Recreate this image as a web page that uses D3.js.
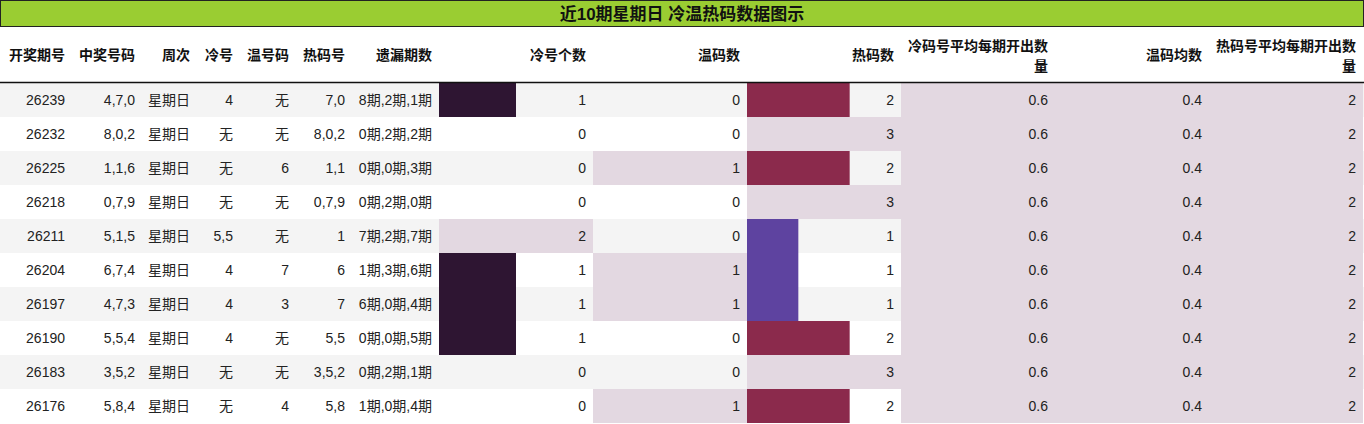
<!DOCTYPE html>
<html lang="zh">
<head>
<meta charset="utf-8">
<title>冷温热码数据图示</title>
<script src="https://cdn.jsdelivr.net/npm/d3@7"></script>
<style>
body { margin: 0; background: #fff; }
text { font-family: "Liberation Sans", "Noto Sans CJK SC", sans-serif; font-size: 14px; fill: #222; }
.hd { font-weight: bold; fill: #111; }
</style>
</head>
<body>
<script>
// data
var issues = ["26239","26232","26225","26218","26211","26204","26197","26190","26183","26176"];
var numbers = ["4,7,0","8,0,2","1,1,6","0,7,9","5,1,5","6,7,4","4,7,3","5,5,4","3,5,2","5,8,4"];
var weekday = ["星期日","星期日","星期日","星期日","星期日","星期日","星期日","星期日","星期日","星期日"];
var coldNums = ["4","无","无","无","5,5","4","4","4","无","无"];
var warmNums = ["无","无","6","无","无","7","3","无","无","4"];
var hotNums = ["7,0","8,0,2","1,1","0,7,9","1","6","7","5,5","3,5,2","5,8"];
var missing = ["8期,2期,1期","0期,2期,2期","0期,0期,3期","0期,2期,0期","7期,2期,7期","1期,3期,6期","6期,0期,4期","0期,0期,5期","0期,2期,1期","1期,0期,4期"];
var coldCount = [1,0,0,0,2,1,1,1,0,0];
var warmCount = [0,0,1,0,0,1,1,0,0,1];
var hotCount = [2,3,2,3,1,1,1,2,3,2];
var coldAvg = [0.6,0.6,0.6,0.6,0.6,0.6,0.6,0.6,0.6,0.6];
var warmAvg = [0.4,0.4,0.4,0.4,0.4,0.4,0.4,0.4,0.4,0.4];
var hotAvg = [2,2,2,2,2,2,2,2,2,2];

var textCols = [
  {name:["开奖期号"], vals:issues, x0:0, x1:72},
  {name:["中奖号码"], vals:numbers, x0:72, x1:142},
  {name:["周次"], vals:weekday, x0:142, x1:197},
  {name:["冷号"], vals:coldNums, x0:197, x1:240},
  {name:["温号码"], vals:warmNums, x0:240, x1:296},
  {name:["热码号"], vals:hotNums, x0:296, x1:352},
  {name:["遗漏期数"], vals:missing, x0:352, x1:439}
];
var barCols = [
  {name:["冷号个数"], vals:coldCount, colors:{1:"#2e1532"}},
  {name:["温码数"], vals:warmCount, colors:{}},
  {name:["热码数"], vals:hotCount, colors:{1:"#5e43a0",2:"#8b2a4c"}},
  {name:["冷码号平均每期开出数","量"], vals:coldAvg, colors:{}, fmt:d3.format(".1f")},
  {name:["温码均数"], vals:warmAvg, colors:{}, fmt:d3.format(".1f")},
  {name:["热码号平均每期开出数","量"], vals:hotAvg, colors:{}}
];

var W = 1364, H = 424, rowH = 34, bodyTop = 83, barW = 154, barX0 = 439;
var svg = d3.select("body").append("svg").attr("width", W).attr("height", H);

var y = d3.scaleBand().domain(d3.range(issues.length)).range([bodyTop, bodyTop + rowH * issues.length]);

// title
svg.append("rect").attr("x", 0.5).attr("y", 0.5).attr("width", W - 1).attr("height", 26)
  .attr("fill", "#9acd32").attr("stroke", "#222");
svg.append("text").attr("class", "hd").attr("x", W / 2).attr("y", 20)
  .attr("text-anchor", "middle").style("font-size", "17px").text("近10期星期日 冷温热码数据图示");

// row stripes
svg.selectAll(".stripe").data(d3.range(issues.length)).enter().append("rect")
  .attr("x", 0).attr("y", function(i){ return y(i); })
  .attr("width", W).attr("height", y.bandwidth())
  .attr("fill", function(i){ return i % 2 == 0 ? "#f4f4f4" : "#fff"; });

barCols.forEach(function(c, k){
  c.x0 = barX0 + k * barW; c.x1 = c.x0 + barW;
  var max = d3.max(c.vals);
  var x = d3.scaleLinear().domain([0, max]).range([0, barW]);
  svg.selectAll(".b" + k).data(c.vals).enter().append("rect")
    .attr("x", c.x0).attr("y", function(d, i){ return y(i); })
    .attr("height", y.bandwidth())
    .attr("width", function(d){ return d == max ? barW : x(d); })
    .attr("fill", function(d){ return d == max ? "#e3d8e1" : (c.colors[d] || "none"); });
});

var allCols = textCols.concat(barCols);
allCols.forEach(function(c){
  var tx = c.x1 - 7;
  var g = svg.append("text").attr("class", "hd").attr("text-anchor", "end");
  if (c.name.length == 1) {
    g.attr("x", tx).attr("y", 60).text(c.name[0]);
  } else {
    c.name.forEach(function(s, j){
      g.append("tspan").attr("x", tx).attr("y", 51 + j * 20).text(s);
    });
  }
  svg.selectAll(null).data(c.vals).enter().append("text")
    .attr("x", tx)
    .attr("text-anchor", "end")
    .attr("y", function(d, i){ return y(i) + y.bandwidth() / 2 + 5; })
    .text(function(d){ return c.fmt ? c.fmt(d) : d; });
});

svg.append("line").attr("x1", 0).attr("x2", W).attr("y1", 82.5).attr("y2", 82.5)
  .attr("stroke", "#111").attr("stroke-width", 1.3);
</script>
</body>
</html>
